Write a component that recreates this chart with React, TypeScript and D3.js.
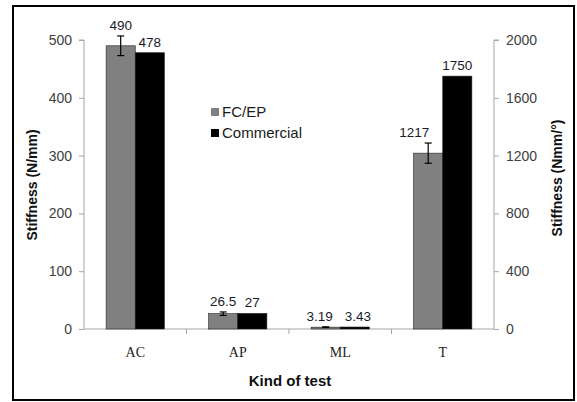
import React, { useEffect, useRef } from "react";
import * as d3 from "d3";

const categories = ["AC", "AP", "ML", "T"];
const fcepValues = [490, 26.5, 3.19, 1217];
const commercialValues = [478, 27, 3.43, 1750];
const fcepErrors = [17, 3, 0.5, 70];
const fcepLabels = ["490", "26.5", "3.19", "1217"];
const commercialLabels = ["478", "27", "3.43", "1750"];
// last category (T) is read on the right axis
const useRightAxis = [false, false, false, true];
const seriesNames = ["FC/EP", "Commercial"];
const seriesColors = ["#808080", "#000000"];
const leftTicks = [0, 100, 200, 300, 400, 500];
const rightTicks = [0, 400, 800, 1200, 1600, 2000];

const W = 577;
const H = 402;
const margin = { top: 40, right: 83, bottom: 73, left: 84 };
// horizontal nudge of value labels so they don't collide (px)
const labelNudge = [
  [0, 0, -6, -14],
  [0, 0, 3, 0],
];

function App() {
  const svgRef = useRef<SVGSVGElement>(null);

  useEffect(() => {
    const svg = d3.select(svgRef.current);
    svg.selectAll("*").remove();
    const innerW = W - margin.left - margin.right;
    const innerH = H - margin.top - margin.bottom;
    const sans = "'Liberation Sans', Arial, sans-serif";

    // outer frame
    svg
      .append("rect")
      .attr("x", 13)
      .attr("y", 6)
      .attr("width", 561)
      .attr("height", 394)
      .attr("fill", "#fff")
      .attr("stroke", "#000")
      .attr("stroke-width", 2);

    const g = svg.append("g").attr("transform", `translate(${margin.left},${margin.top})`);

    const x = d3.scaleBand().domain(categories).range([0, innerW]).padding(0);
    const xs = d3.scaleBand().domain(seriesNames).range([0, x.bandwidth()]).paddingInner(0).paddingOuter(0.76);
    const yL = d3.scaleLinear().domain([0, 500]).range([innerH, 0]);
    const yR = d3.scaleLinear().domain([0, 2000]).range([innerH, 0]);
    const yFor = (i: number) => (useRightAxis[i] ? yR : yL);

    // axes
    const axisColor = "#a6a6a6";
    const left = g.append("g").call(d3.axisLeft(yL).tickValues(leftTicks).tickSize(5).tickPadding(7));
    left.selectAll("path, line").attr("stroke", axisColor);
    left.selectAll("text").attr("font-family", sans).attr("font-size", 14).attr("fill", "#404040");
    left.select(".domain").attr("d", `M-5,0H0V${innerH}`);

    const right = g
      .append("g")
      .attr("transform", `translate(${innerW},0)`)
      .call(d3.axisRight(yR).tickValues(rightTicks).tickFormat(d3.format("d")).tickSize(5).tickPadding(7));
    right.selectAll("path, line").attr("stroke", axisColor);
    right.selectAll("text").attr("font-family", sans).attr("font-size", 14).attr("fill", "#404040");
    right.select(".domain").attr("d", `M5,0H0V${innerH}`);

    const bottom = g.append("g").attr("transform", `translate(0,${innerH})`);
    bottom.append("line").attr("x1", 0).attr("x2", innerW).attr("stroke", axisColor);
    bottom
      .selectAll("line.tk")
      .data(categories.slice(1))
      .enter()
      .append("line")
      .attr("class", "tk")
      .attr("x1", (d) => x(d)!)
      .attr("x2", (d) => x(d)!)
      .attr("y1", 0)
      .attr("y2", 5)
      .attr("stroke", axisColor);
    bottom
      .selectAll("text")
      .data(categories)
      .enter()
      .append("text")
      .attr("x", (d) => x(d)! + x.bandwidth() / 2)
      .attr("y", 28)
      .attr("text-anchor", "middle")
      .attr("font-family", "'Liberation Serif', 'Times New Roman', serif")
      .attr("font-size", 14)
      .attr("fill", "#222")
      .text((d) => d);

    // bars
    const series = [
      { name: seriesNames[0], values: fcepValues, labels: fcepLabels, errs: fcepErrors },
      { name: seriesNames[1], values: commercialValues, labels: commercialLabels, errs: null as number[] | null },
    ];
    series.forEach((s, si) => {
      const sg = g.append("g");
      sg.selectAll("rect")
        .data(s.values)
        .enter()
        .append("rect")
        .attr("x", (_, i) => x(categories[i])! + xs(s.name)!)
        .attr("y", (d, i) => yFor(i)(d))
        .attr("width", xs.bandwidth())
        .attr("height", (d, i) => innerH - yFor(i)(d))
        .attr("fill", seriesColors[si])
        .attr("stroke", "#222")
        .attr("stroke-width", 0.6);

      if (s.errs) {
        const errs = s.errs;
        s.values.forEach((v, i) => {
          const cx = x(categories[i])! + xs(s.name)! + xs.bandwidth() / 2;
          const y0 = yFor(i)(v - errs[i]);
          const y1 = yFor(i)(v + errs[i]);
          sg.append("line").attr("x1", cx).attr("x2", cx).attr("y1", y0).attr("y2", y1).attr("stroke", "#000").attr("stroke-width", 1.2);
          [y0, y1].forEach((yy) =>
            sg.append("line").attr("x1", cx - 3.5).attr("x2", cx + 3.5).attr("y1", yy).attr("y2", yy).attr("stroke", "#000").attr("stroke-width", 1.2)
          );
        });
      }

      sg.selectAll("text")
        .data(s.values)
        .enter()
        .append("text")
        .attr("x", (_, i) => x(categories[i])! + xs(s.name)! + xs.bandwidth() / 2 + labelNudge[si][i])
        .attr("y", (d, i) => {
          const top = s.errs ? yFor(i)(d + s.errs[i]) : yFor(i)(d);
          return Math.min(top, yFor(i)(d)) - 6;
        })
        .attr("text-anchor", "middle")
        .attr("font-family", sans)
        .attr("font-size", 13.5)
        .attr("fill", "#1a1a2a")
        .text((_, i) => s.labels[i]);
    });

    // legend
    const lg = svg.append("g").attr("transform", "translate(215,112)");
    seriesNames.forEach((name, i) => {
      lg.append("rect")
        .attr("x", -4)
        .attr("y", i * 21 - 4)
        .attr("width", 8)
        .attr("height", 8)
        .attr("fill", seriesColors[i]);
      lg.append("text")
        .attr("x", 7)
        .attr("y", i * 21)
        .attr("dy", "0.36em")
        .attr("font-family", sans)
        .attr("font-size", 15)
        .attr("fill", "#1a1a1a")
        .text(name);
    });

    // axis titles
    svg
      .append("text")
      .attr("transform", "translate(37,185) rotate(-90)")
      .attr("text-anchor", "middle")
      .attr("font-family", sans)
      .attr("font-weight", "bold")
      .attr("font-size", 14)
      .attr("fill", "#111")
      .text("Stiffness (N/mm)");
    svg
      .append("text")
      .attr("transform", "translate(562,178) rotate(-90)")
      .attr("text-anchor", "middle")
      .attr("font-family", sans)
      .attr("font-weight", "bold")
      .attr("font-size", 14)
      .attr("fill", "#111")
      .text("Stiffness (Nmm/°)");
    svg
      .append("text")
      .attr("x", 290)
      .attr("y", 386)
      .attr("text-anchor", "middle")
      .attr("font-family", sans)
      .attr("font-weight", "bold")
      .attr("font-size", 15)
      .attr("fill", "#111")
      .text("Kind of test");
  }, []);

  return (
    <svg
      ref={svgRef}
      width={W}
      height={H}
      style={{ position: "absolute", left: 0, top: 0 }}
    ></svg>
  );
}

export default App;
